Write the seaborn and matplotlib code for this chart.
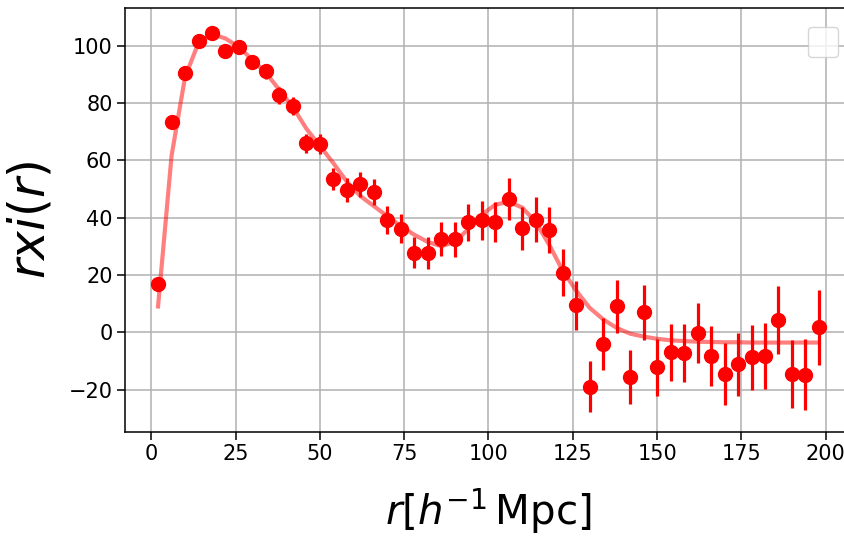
import numpy as np
import pandas as pd
import matplotlib
matplotlib.use('Agg')
import matplotlib.pyplot as plt
import seaborn as sns

# 数据
r = [2, 6, 10, 14, 18, 22, 26, 30, 34, 38, 42, 46, 50, 54, 58, 62, 66, 70, 74, 78,
     82, 86, 90, 94, 98, 102, 106, 110, 114, 118, 122, 126, 130, 134, 138, 142, 146, 150, 154, 158,
     162, 166, 170, 174, 178, 182, 186, 190, 194, 198]
rxi_obs = [16.7, 73.5, 90.4, 101.7, 104.5, 98.2, 99.6, 94.4, 91.0, 82.6, 78.8, 66.0, 65.6, 53.5, 49.6, 51.6, 49.0, 39.2, 36.1, 27.8,
           27.8, 32.4, 32.4, 38.3, 39.1, 38.4, 46.4, 36.2, 39.3, 35.7, 20.8, 9.4, -19.1, -4.2, 9.0, -15.6, 6.9, -12.2, -7.0, -7.3,
           -0.3, -8.3, -14.6, -11.1, -8.7, -8.3, 4.2, -14.6, -14.9, 1.7]
rxi_err = [1.5, 1.5, 1.6, 1.8, 2.0, 2.1, 2.3, 2.5, 2.7, 2.9, 3.1, 3.3, 3.5, 3.8, 4.1, 4.3, 4.6, 4.9, 5.1, 5.3,
           5.6, 5.9, 6.2, 6.5, 6.8, 7.0, 7.3, 7.5, 7.8, 8.0, 8.3, 8.6, 8.9, 9.1, 9.3, 9.5, 9.7, 9.9, 10.0, 10.2,
           10.4, 10.6, 10.8, 11.0, 11.3, 11.5, 11.8, 12.0, 12.4, 13.0]
rxi_model = [9.0, 61.5, 89.0, 101.0, 104.0, 102.5, 99.5, 95.0, 90.5, 84.5, 78.5, 71.0, 65.0, 59.0, 52.5, 47.5, 44.0, 40.5, 37.0, 34.0,
             31.5, 30.0, 31.5, 36.0, 41.0, 44.5, 45.5, 43.5, 38.5, 30.5, 21.5, 14.5, 8.5, 4.5, 1.5, -0.5, -1.5, -2.3, -2.8, -3.1,
             -3.3, -3.4, -3.5, -3.5, -3.6, -3.6, -3.6, -3.6, -3.6, -3.6]

df_obs = pd.DataFrame({'r': r, 'rxi': rxi_obs, 'err': rxi_err})
df_model = pd.DataFrame({'r': r, 'rxi': rxi_model})

fig = plt.figure(figsize=(8.44, 5.38), dpi=100)
ax = fig.add_axes([125 / 844, 106.3 / 538, 727 / 844, 424.2 / 538])

# 模型曲线
sns.lineplot(data=df_model, x='r', y='rxi', ax=ax, color='red', alpha=0.5, linewidth=3)
# 观测点 + 误差棒
ax.errorbar(df_obs['r'], df_obs['rxi'], yerr=df_obs['err'], fmt='o', color='red',
            markersize=10, elinewidth=2.3, capsize=0)

ax.set_xlim(-7.8, 207.8)
ax.set_ylim(-34.7, 113.3)
ax.set_xticks([0, 25, 50, 75, 100, 125, 150, 175, 200])
ax.set_yticks([-20, 0, 20, 40, 60, 80, 100])
ax.set_xlabel(r'$r[h^{-1}\,\mathrm{Mpc}]$', fontsize=29, labelpad=16)
ax.set_ylabel(r'$rxi(r)$', fontsize=35, labelpad=10)
ax.tick_params(labelsize=15, length=5.5, width=1.1)
for s in ax.spines.values():
    s.set_linewidth(1.1)
ax.grid(True, color='#b0b0b0', linewidth=1.1)
ax.legend(loc='upper right', bbox_to_anchor=(0.981, 0.954), borderaxespad=0,
          fontsize=14, borderpad=0.77)

fig.savefig('out.png', dpi=100)
